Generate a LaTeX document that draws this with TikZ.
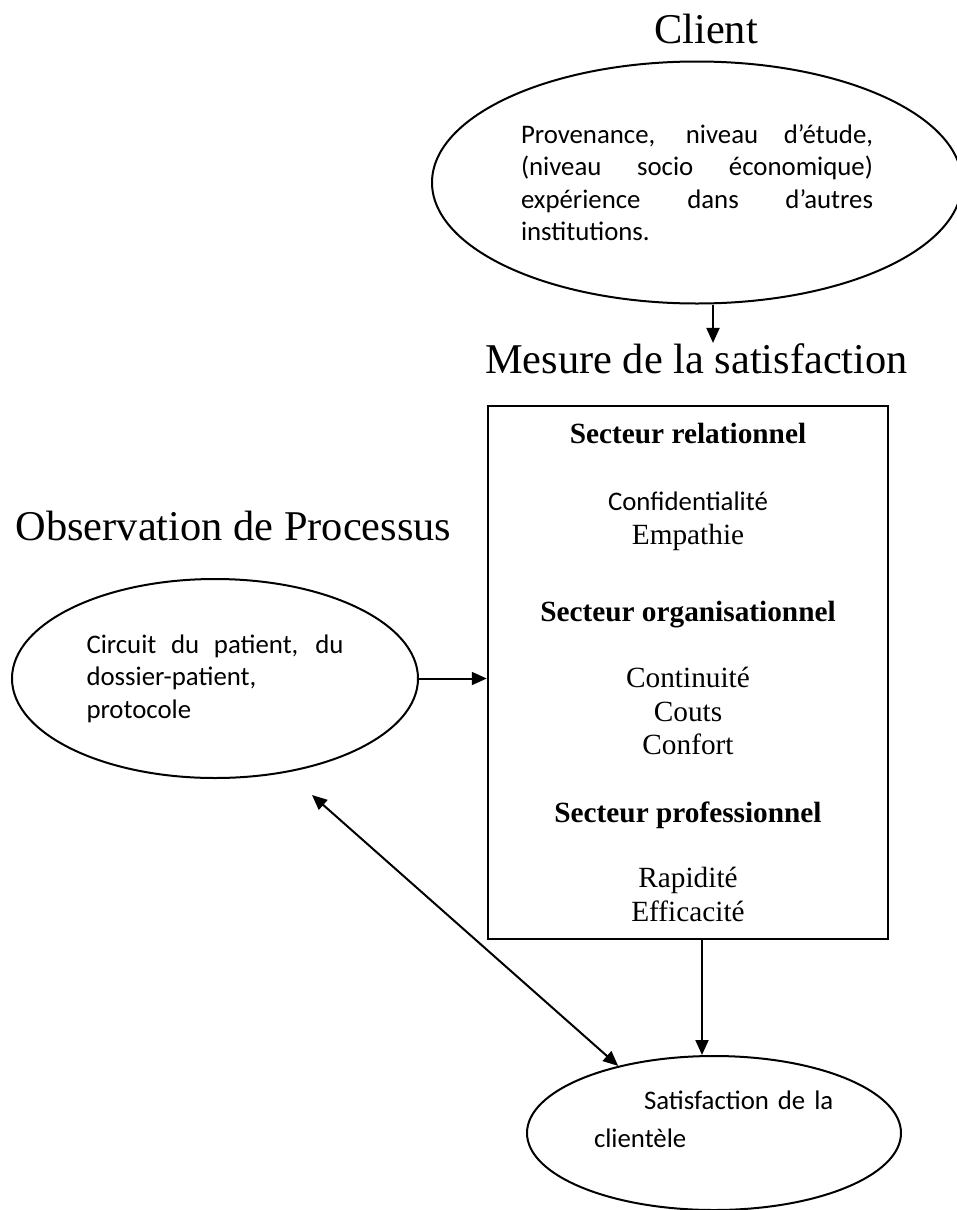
\documentclass[tikz,border=0pt]{standalone}
\usepackage{fontspec}
\setmainfont{Liberation Serif}
\newfontfamily\calibri{Carlito}
\usetikzlibrary{arrows.meta,positioning,shapes}
\tikzstyle{bulle}=[ellipse,draw,line width=2pt,inner sep=0pt,
font=\calibri\fontsize{26.8}{32.5}\selectfont]
\tikzstyle{cadre}=[rectangle,draw,line width=2.5pt,inner sep=0pt,
minimum width=400pt,minimum height=533pt,align=center,font=\fontsize{29.3}{34}\selectfont]
\tikzstyle{titre}=[inner sep=0pt,anchor=base,font=\fontsize{42.4}{50}\selectfont]
\tikzstyle{fleche}=[line width=2pt,-{Triangle[length=15pt,width=13pt]}]
\tikzstyle{fleche2}=[line width=2pt,{Triangle[length=15pt,width=13pt]}-{Triangle[length=15pt,width=13pt]}]
\hbadness=10000

\begin{document}
\begin{tikzpicture}[x=1pt,y=-1pt]
            \useasboundingbox (0,0) rectangle (956,1210);

            % Client PART

            \node[titre] (tclient) at (706,43) {Client};
            \node[bulle,minimum width=530pt,minimum height=242pt,text width=352pt,align=justify] (client) at (697,182.5)
                {Provenance, niveau d’étude,\linebreak (niveau socio économique)\linebreak expérience dans d’autres\linebreak institutions.};

            % Mesure PART

            \node[titre] (tmesure) at (696.5,373) {Mesure de la satisfaction};
            \node[cadre] (mesure) at (688,672.5) {%
                {\bfseries Secteur relationnel}\\[33pt]
                {\calibri\fontsize{26.8}{34}\selectfont Confidentialité}\\[0pt]
                Empathie\\[43pt]
                {\bfseries Secteur organisationnel}\\[32pt]
                Continuité\\
                Couts\\[-1pt]
                Confort\\[34pt]
                {\bfseries Secteur professionnel}\\[31pt]
                Rapidité\\
                Efficacité};

            % Processus PART

            \node[titre] (tobs) at (233.5,540) {Observation de Processus};
            \node[bulle,minimum width=406pt,minimum height=199pt,text width=257pt,align=justify] (processus) at (215,678.5)
                {Circuit du patient, du\linebreak dossier-patient,\\ protocole};

            % Satisfaction PART

            \node[bulle,minimum width=374pt,minimum height=154pt,text width=240pt,text depth=66pt,align=left,
                font=\calibri\fontsize{26.8}{38}\selectfont] (satis) at (714,1133)
                {\hspace*{50pt}Satisfaction de la\\ clientèle};
            \coordinate (retour) at (312,795);

            % Connections

            \path[fleche] ([xshift=16pt]client.south) edge ([xshift=16pt]client.south |- tmesure.north);
            \path[fleche] (processus.east) edge (processus.east -| mesure.west);
            \path[fleche] ([xshift=14pt]mesure.south) edge ([xshift=14pt]mesure.south |- satis.north);
            \path[fleche2] (retour) edge (satis.145);

\end{tikzpicture}
\end{document}
